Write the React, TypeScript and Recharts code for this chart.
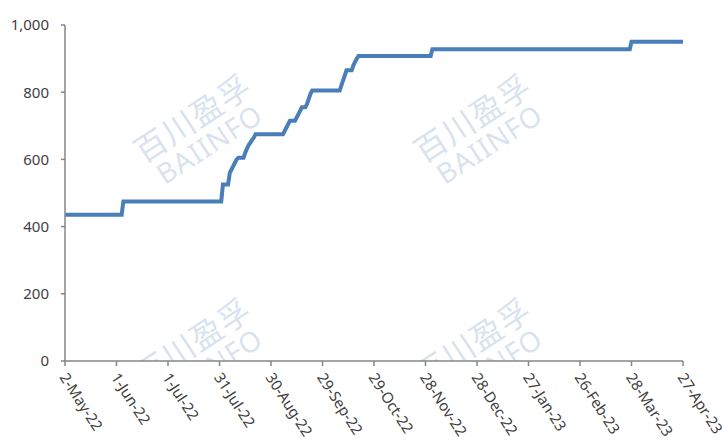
import { LineChart, Line, XAxis, YAxis } from "recharts";

// price change days (offset from 2-May-22) and the price set on that day
const changeDays = [
  0, 34, 92, 96, 97, 98, 99, 100, 101, 105, 106, 107, 108, 109, 110, 111, 128,
  129, 130, 131, 135, 136, 137, 138, 141, 142, 143, 144, 161, 162, 163, 164,
  168, 169, 170, 171, 214, 330,
];
const changePrices = [
  435, 475, 525, 560, 570, 580, 590, 600, 605, 620, 632, 643, 650, 658, 665,
  675, 685, 695, 705, 715, 725, 735, 745, 755, 765, 780, 795, 805, 820, 835,
  850, 865, 880, 890, 900, 908, 928, 950,
];

const lastDay = 360;
const tickDays = [0, 30, 60, 90, 120, 150, 180, 210, 240, 270, 300, 330, 360];
const tickLabels = [
  "2-May-22",
  "1-Jun-22",
  "1-Jul-22",
  "31-Jul-22",
  "30-Aug-22",
  "29-Sep-22",
  "29-Oct-22",
  "28-Nov-22",
  "28-Dec-22",
  "27-Jan-23",
  "26-Feb-23",
  "28-Mar-23",
  "27-Apr-23",
];
const yTicks = [0, 200, 400, 600, 800, 1000];

// one point per day, price held until the next change
const data: { day: number; price: number }[] = [];
let k = 0;
for (let d = 0; d <= lastDay; d++) {
  while (k + 1 < changeDays.length && changeDays[k + 1] <= d) k++;
  data.push({ day: d, price: changePrices[k] });
}

const font = "'Noto Sans', 'Open Sans', sans-serif";
const axisColor = "#868686";

const DateTick = (props: any) => {
  const { x, y, payload } = props;
  const i = tickDays.indexOf(payload.value);
  const ax = x - 1;
  const ay = y + 6;
  return (
    <text
      x={ax}
      y={ay}
      transform={`rotate(57, ${ax}, ${ay})`}
      textAnchor="start"
      dominantBaseline="central"
      fontSize={15}
      fontFamily={font}
      fill="#404040"
    >
      {tickLabels[i]}
    </text>
  );
};

const Watermark = ({ left, top }: { left: number; top: number }) => (
  <div
    style={{
      position: "absolute",
      left,
      top,
      width: 160,
      transform: "rotate(-33deg)",
      textAlign: "center",
      color: "rgba(185, 202, 222, 0.55)",
      fontFamily: "'Noto Sans CJK SC', sans-serif",
      lineHeight: 1.05,
      whiteSpace: "nowrap",
    }}
  >
    <div style={{ fontSize: 32, letterSpacing: 1 }}>百川盈孚</div>
    <div style={{ fontSize: 28, fontFamily: font, letterSpacing: 1 }}>
      BAIINFO
    </div>
  </div>
);

export default function App() {
  return (
    <div
      style={{
        position: "absolute",
        left: 0,
        top: 0,
        width: 722,
        height: 441,
        background: "#fff",
      }}
    >
      {/* background watermark, cut at the category axis */}
      <div
        style={{
          position: "absolute",
          left: 0,
          top: 0,
          width: 722,
          height: 361,
          overflow: "hidden",
        }}
      >
        <Watermark left={120} top={98} />
        <Watermark left={400} top={98} />
        <Watermark left={120} top={322} />
        <Watermark left={400} top={322} />
      </div>
      <div style={{ position: "absolute", left: 0, top: 0 }}>
        <LineChart
          width={722}
          height={441}
          data={data}
          margin={{ top: 25, right: 39, bottom: 0, left: 0 }}
        >
          <XAxis
            dataKey="day"
            type="number"
            domain={[0, lastDay]}
            ticks={tickDays}
            interval={0}
            height={80}
            stroke={axisColor}
            strokeWidth={1.5}
            tickSize={5}
            tick={<DateTick />}
          />
          <YAxis
            domain={[0, 1000]}
            ticks={yTicks}
            width={65}
            stroke={axisColor}
            strokeWidth={1.5}
            tickSize={4}
            tickMargin={12}
            tickFormatter={(v: number) => v.toLocaleString("en-US")}
            tick={{ fontSize: 15, fontFamily: font, fill: "#404040" }}
          />
          <Line
            dataKey="price"
            type="linear"
            stroke="#4A7EBB"
            strokeWidth={4}
            dot={false}
            isAnimationActive={false}
          />
        </LineChart>
      </div>
    </div>
  );
}
